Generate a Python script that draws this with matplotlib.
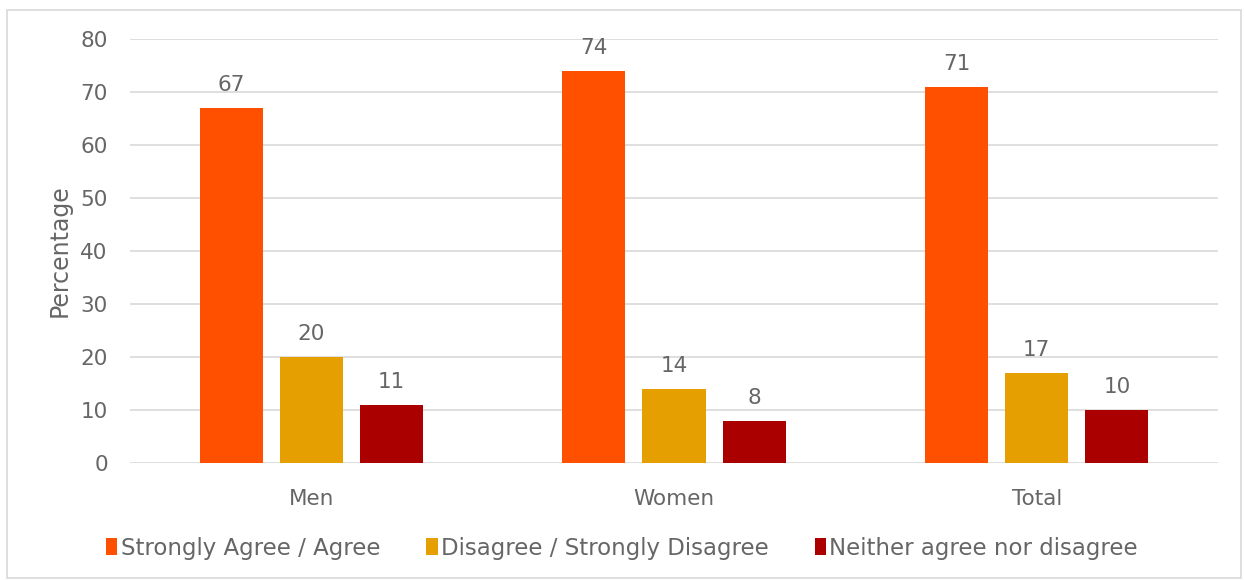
import matplotlib
matplotlib.use("Agg")
import matplotlib.pyplot as plt
import numpy as np
from matplotlib.patches import Rectangle

categories = ["Men", "Women", "Total"]
series_names = ["Strongly Agree / Agree", "Disagree / Strongly Disagree", "Neither agree nor disagree"]
agree = [67, 74, 71]
disagree = [20, 14, 17]
neither = [11, 8, 10]
colors = ["#FF5000", "#E69F00", "#AA0000"]
yticks = [0, 10, 20, 30, 40, 50, 60, 70, 80]

plt.rcParams['font.family'] = ['DejaVu Sans']
txt = "#666666"

fig = plt.figure(figsize=(12.44, 5.8), dpi=100)
ax = fig.add_axes([130/1244, 1-463/580, 1088/1244, 424/580])

x = np.arange(len(categories))
w = 0.174
step = 0.221
for i, (vals, c, name) in enumerate(zip([agree, disagree, neither], colors, series_names)):
    bars = ax.bar(x + (i-1)*step, vals, w, color=c, label=name, zorder=3)
    for b, v in zip(bars, vals):
        ax.text(b.get_x()+b.get_width()/2, v + 2.4, str(v), ha='center', va='bottom',
                fontsize=15.5, color=txt)

ax.set_xlim(-0.5, 2.5)
ax.set_ylim(0, 80)
ax.set_yticks(yticks)
ax.set_xticks(x)
ax.set_xticklabels(categories)
ax.tick_params(axis='both', length=0, labelsize=15.5, labelcolor=txt)
ax.tick_params(axis='y', pad=16)
ax.tick_params(axis='x', pad=19)
ax.grid(axis='y', color='#d9d9d9', linewidth=1.2, zorder=0)
for s in ax.spines.values():
    s.set_visible(False)
ax.set_ylabel("Percentage", fontsize=17, color=txt, labelpad=6)

leg = fig.legend(loc='center', bbox_to_anchor=(0.5, 1-548/580), ncol=3, frameon=False,
                 fontsize=16.5, handlelength=0.5, handleheight=0.7, handletextpad=0.15,
                 columnspacing=2.0, labelcolor=txt)

fig.patches.append(Rectangle((7/1244, 1-578/580), 1234/1244, 568/580, transform=fig.transFigure,
                             fill=False, edgecolor='#d9d9d9', linewidth=1.2))

fig.savefig("out.png", dpi=100)
